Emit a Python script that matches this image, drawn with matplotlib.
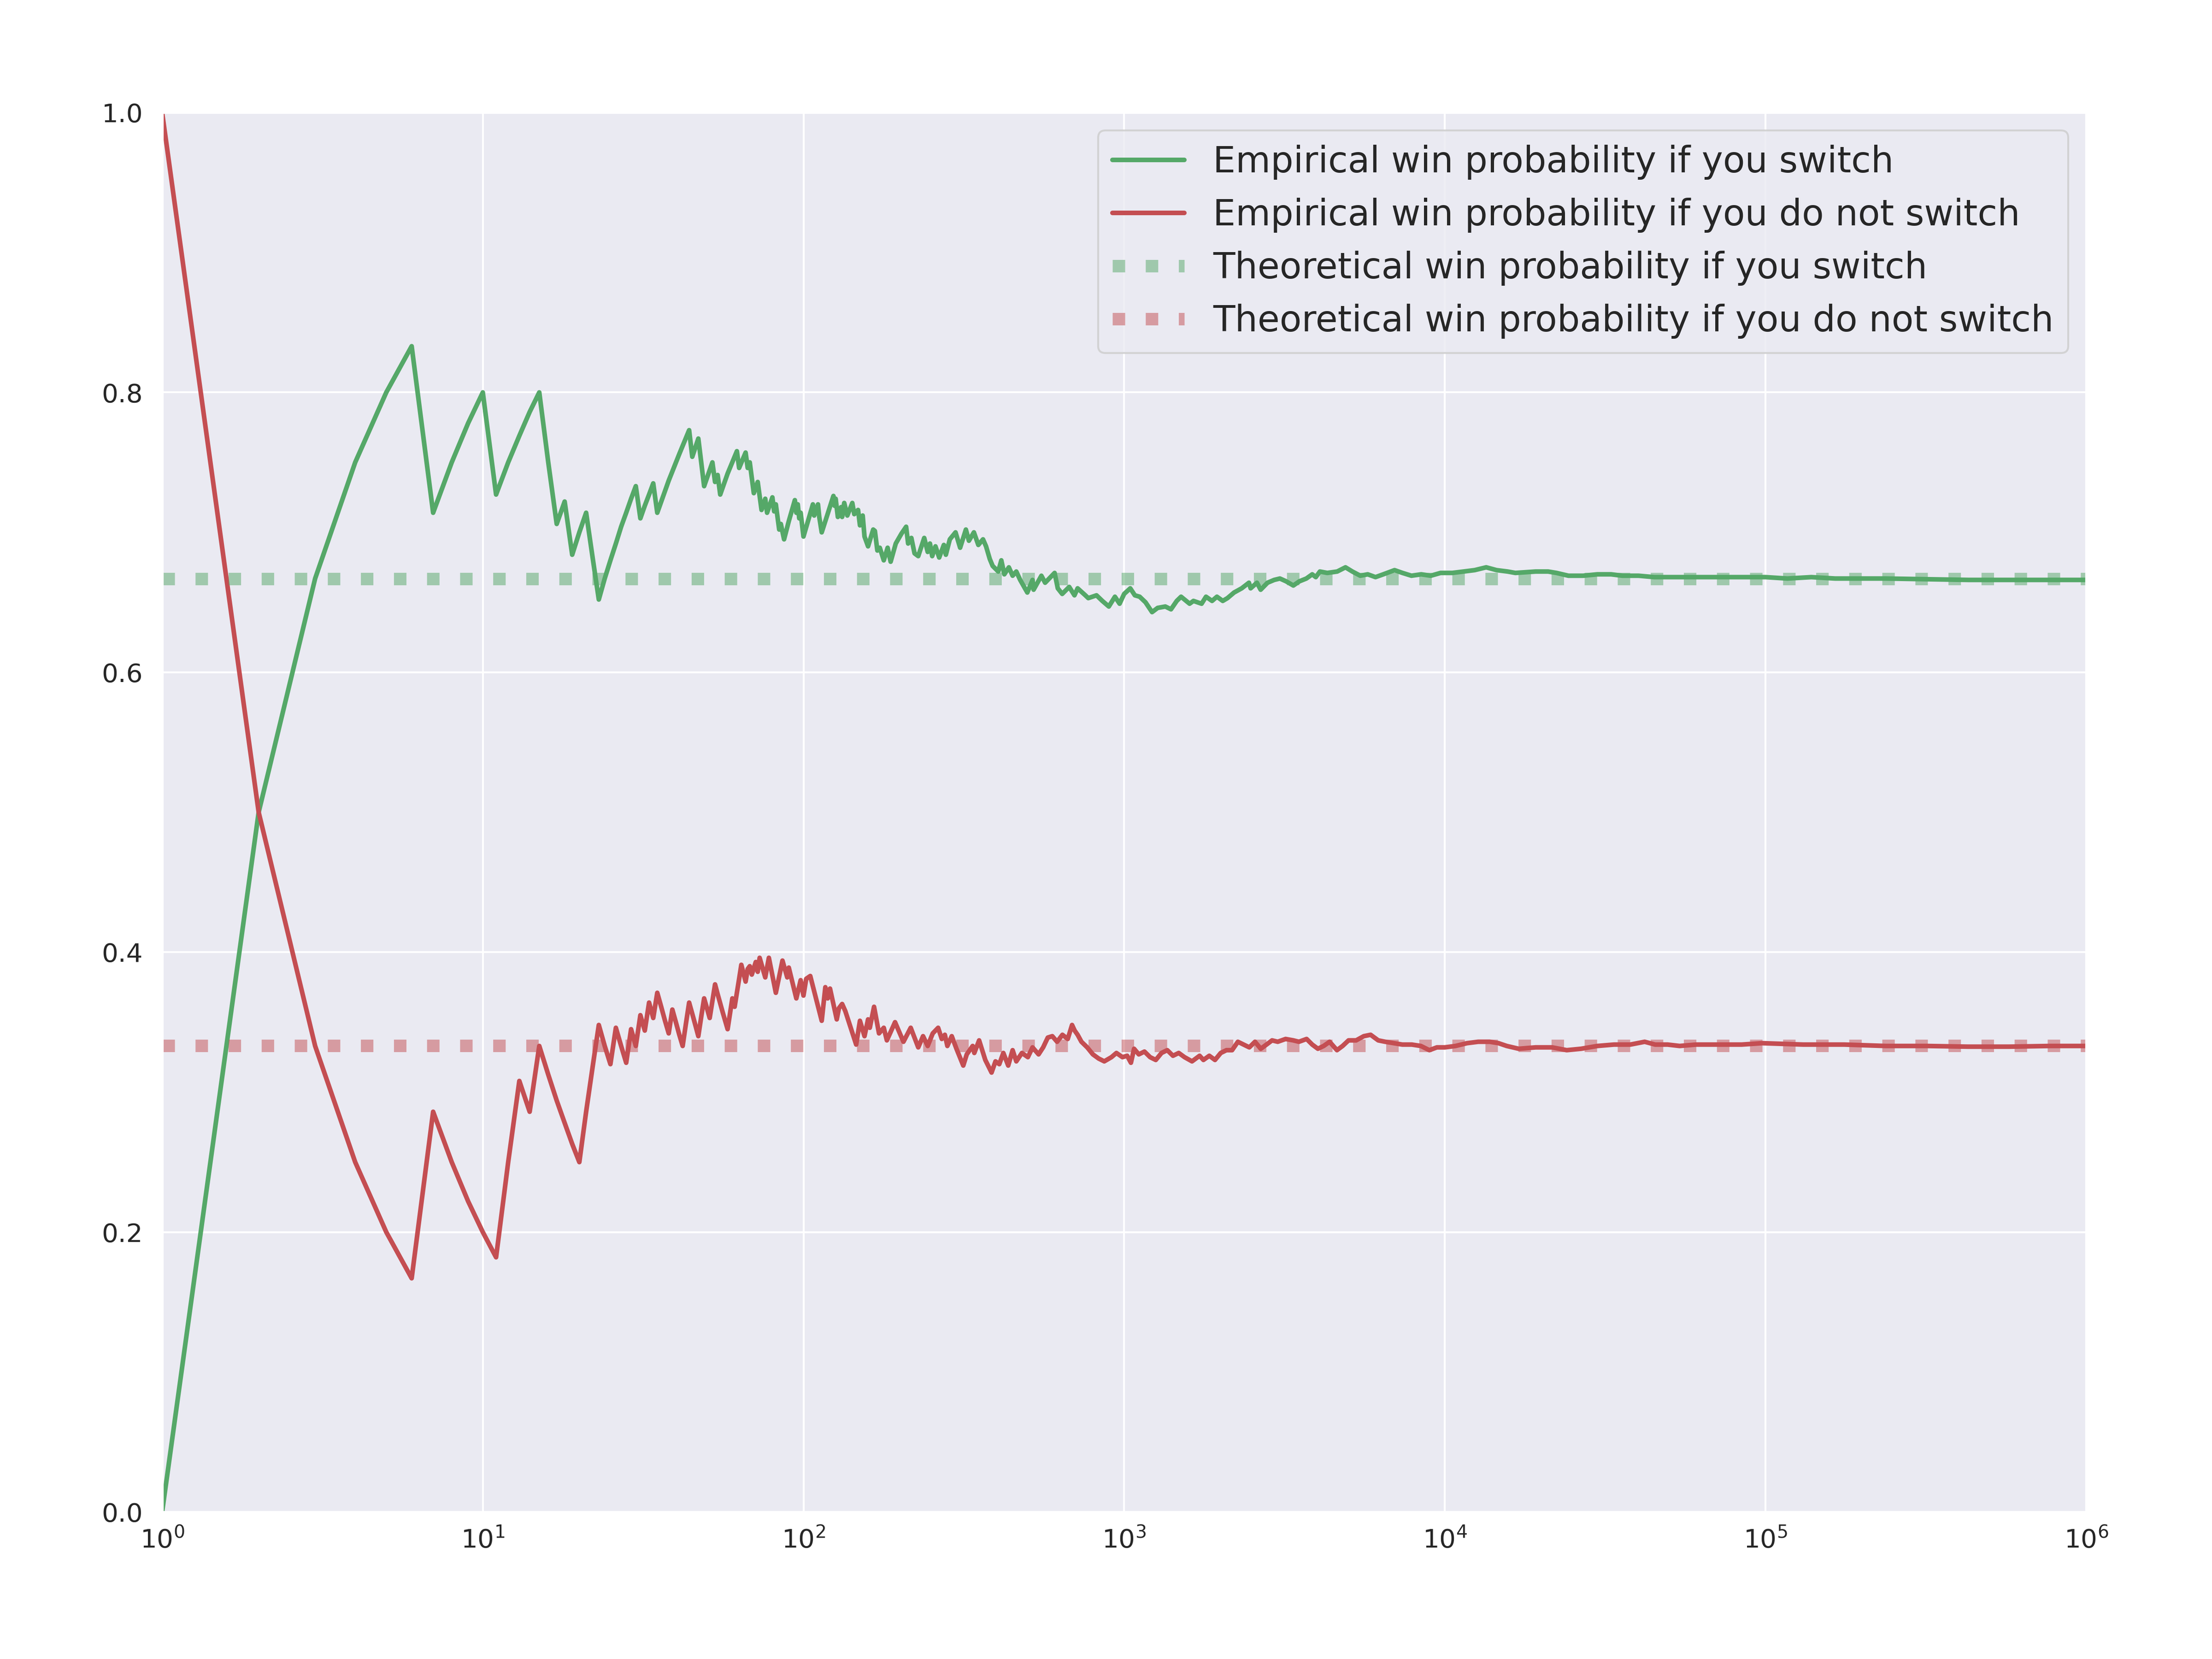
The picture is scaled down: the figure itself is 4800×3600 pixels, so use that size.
import matplotlib
matplotlib.use("Agg")
import matplotlib.pyplot as plt
import seaborn as sns

# running win fraction (trial number, fraction)
switch_n = [1, 2, 3, 4, 5, 6, 7, 8, 9, 10, 11, 12, 13, 14, 15, 16, 17, 18, 19, 20,
            21, 22, 23, 24, 25, 26, 27, 28, 29, 30, 31, 32, 33, 34, 35, 38, 41, 44,
            45, 47, 49, 52, 53, 54, 55, 58, 62, 63, 66, 67, 68, 70, 72, 74, 76, 77,
            80, 81, 82, 84, 85, 87, 90, 94, 95, 96, 97, 98, 100, 107, 108, 111, 112,
            114, 124, 125, 126, 128, 131, 132, 134, 137, 142, 144, 148, 150, 153, 155,
            159, 165, 167, 170, 173, 178, 183, 187, 194, 202, 209, 212, 217, 222,
            228, 238, 244, 248, 252, 258, 265, 274, 278, 286, 298, 308, 321, 328,
            340, 351, 363, 371, 381, 389, 405, 414, 423, 437, 449, 461, 474, 499,
            518, 522, 552, 567, 607, 621, 641, 674, 700, 716, 757, 773, 820, 855,
            896, 936, 968, 1000, 1045, 1080, 1118, 1166, 1222, 1272, 1344, 1400,
            1459, 1505, 1600, 1645, 1744, 1800, 1880, 1947, 2030, 2100, 2202, 2326,
            2450, 2480, 2595, 2665, 2800, 2937, 3060, 3200, 3370, 3520, 3700, 3860,
            3960, 4078, 4300, 4617, 4900, 5150, 5450, 5750, 6080, 6430, 6970, 7380,
            7870, 8440, 9040, 9700, 10550, 11450, 12390, 13460, 14500, 15700, 16600,
            19200, 21000, 22300, 24300, 27000, 29900, 33000, 35800, 40200, 45000,
            54000, 62000, 72600, 84000, 100000, 117000, 139000, 165000, 204000,
            237000, 318000, 430000, 575000, 770000, 1000000]
switch_p = [0.0, 0.5, 0.667, 0.75, 0.8, 0.833, 0.714, 0.75, 0.778, 0.8, 0.727, 0.75,
            0.769, 0.786, 0.8, 0.75, 0.706, 0.722, 0.684, 0.7, 0.714, 0.682, 0.652,
            0.667, 0.68, 0.692, 0.704, 0.714, 0.724, 0.733, 0.71, 0.719, 0.727,
            0.735, 0.714, 0.737, 0.756, 0.773, 0.754, 0.767, 0.733, 0.75, 0.736,
            0.741, 0.727, 0.742, 0.758, 0.746, 0.757, 0.746, 0.75, 0.728, 0.736,
            0.716, 0.724, 0.714, 0.725, 0.715, 0.72, 0.702, 0.706, 0.695, 0.708,
            0.723, 0.714, 0.72, 0.71, 0.714, 0.697, 0.72, 0.712, 0.72, 0.711, 0.70,
            0.726, 0.719, 0.724, 0.711, 0.718, 0.711, 0.721, 0.712, 0.721, 0.713,
            0.716, 0.705, 0.712, 0.697, 0.69, 0.702, 0.701, 0.687, 0.689, 0.68,
            0.689, 0.679, 0.692, 0.699, 0.704, 0.692, 0.696, 0.685, 0.683, 0.696,
            0.686, 0.692, 0.683, 0.69, 0.682, 0.691, 0.684, 0.695, 0.70, 0.689,
            0.702, 0.694, 0.70, 0.691, 0.695, 0.69, 0.681, 0.676, 0.672, 0.68, 0.67,
            0.675, 0.669, 0.672, 0.666, 0.657, 0.666, 0.659, 0.669, 0.664, 0.671,
            0.66, 0.656, 0.661, 0.655, 0.66, 0.655, 0.653, 0.655, 0.651, 0.647,
            0.654, 0.649, 0.656, 0.66, 0.655, 0.654, 0.65, 0.643, 0.646, 0.647,
            0.645, 0.651, 0.654, 0.649, 0.651, 0.649, 0.654, 0.651, 0.654, 0.651,
            0.653, 0.657, 0.66, 0.664, 0.66, 0.664, 0.659, 0.664, 0.666, 0.667,
            0.665, 0.662, 0.665, 0.667, 0.67, 0.668, 0.672, 0.671, 0.672, 0.675,
            0.672, 0.669, 0.67, 0.668, 0.67, 0.673, 0.671, 0.669, 0.67, 0.669,
            0.671, 0.671, 0.672, 0.673, 0.675, 0.673, 0.672, 0.671, 0.672, 0.672,
            0.671, 0.669, 0.669, 0.670, 0.670, 0.669, 0.669, 0.668, 0.668, 0.668,
            0.668, 0.668, 0.668, 0.667, 0.668, 0.667, 0.667, 0.667, 0.6665,
            0.666, 0.666, 0.666, 0.666]

stay_n = [1, 2, 3, 4, 5, 6, 7, 8, 9, 10, 11, 12, 13, 14, 15, 16, 17, 18, 19, 20,
          21, 22, 23, 24, 25, 26, 27, 28, 29, 30, 31, 32, 33, 34, 35, 36, 37, 38,
          39, 40, 41, 42, 43, 44, 45, 46, 47, 48, 49, 50, 51, 52, 53, 54, 56, 58,
          59, 60, 61, 62, 63, 64, 66, 67, 68, 69, 71, 72, 73, 76, 78, 82, 86, 89,
          90, 95, 98, 100, 102, 105, 114, 117, 119, 121, 127, 129, 132, 135, 146,
          150, 155, 159, 161, 166, 172, 178, 182, 193, 205, 216, 228, 236, 244,
          253, 263, 270, 276, 281, 290, 300, 315, 323, 337, 341, 353, 369, 386,
          397, 408, 420, 435, 449, 461, 480, 501, 518, 541, 559, 578, 597, 618,
          642, 667, 688, 701, 716, 736, 767, 799, 833, 867, 913, 946, 988, 1022,
          1050, 1074, 1111, 1157, 1205, 1255, 1308, 1363, 1420, 1480, 1543, 1628,
          1719, 1767, 1843, 1920, 2001, 2085, 2171, 2263, 2358, 2457, 2559, 2667,
          2779, 2893, 3013, 3188, 3370, 3508, 3707, 3860, 4020, 4190, 4373, 4610,
          4800, 5010, 5290, 5590, 5870, 6200, 6520, 6930, 7370, 7890, 8420, 8950,
          9450, 10000, 10800, 11730, 12710, 13800, 14700, 15600, 17000, 19200,
          21600, 24000, 26600, 29900, 33700, 37900, 42000, 45300, 49500, 54000,
          60800, 72600, 84300, 97700, 131000, 176000, 237000, 318000, 428000,
          575000, 773000, 1000000]
stay_p = [1.0, 0.5, 0.333, 0.25, 0.2, 0.167, 0.286, 0.25, 0.222, 0.2, 0.182, 0.25,
          0.308, 0.286, 0.333, 0.3125, 0.294, 0.278, 0.263, 0.25, 0.286, 0.318,
          0.348, 0.333, 0.32, 0.346, 0.333, 0.321, 0.345, 0.333, 0.355, 0.344,
          0.364, 0.353, 0.371, 0.361, 0.351, 0.342, 0.359, 0.35, 0.341, 0.333,
          0.349, 0.364, 0.356, 0.348, 0.34, 0.354, 0.367, 0.36, 0.353, 0.365,
          0.377, 0.37, 0.357, 0.345, 0.356, 0.367, 0.361, 0.371, 0.381, 0.391,
          0.379, 0.388, 0.39, 0.384, 0.393, 0.386, 0.396, 0.382, 0.396, 0.371,
          0.394, 0.382, 0.389, 0.367, 0.38, 0.369, 0.381, 0.383, 0.351, 0.375,
          0.367, 0.374, 0.352, 0.36, 0.363, 0.358, 0.334, 0.351, 0.34, 0.352,
          0.346, 0.361, 0.342, 0.346, 0.337, 0.35, 0.336, 0.346, 0.332, 0.34,
          0.333, 0.342, 0.346, 0.338, 0.341, 0.333, 0.34, 0.331, 0.319, 0.327,
          0.333, 0.328, 0.337, 0.323, 0.314, 0.322, 0.32, 0.328, 0.319, 0.33,
          0.322, 0.328, 0.325, 0.332, 0.327, 0.332, 0.339, 0.34, 0.336, 0.341,
          0.338, 0.348, 0.344, 0.341, 0.336, 0.332, 0.327, 0.324, 0.322, 0.325,
          0.328, 0.325, 0.326, 0.321, 0.331, 0.327, 0.329, 0.325, 0.323, 0.328,
          0.33, 0.326, 0.328, 0.325, 0.322, 0.326, 0.323, 0.326, 0.323, 0.328,
          0.33, 0.33, 0.336, 0.334, 0.332, 0.336, 0.331, 0.334, 0.337, 0.336,
          0.338, 0.337, 0.336, 0.338, 0.334, 0.331, 0.333, 0.336, 0.33, 0.333,
          0.337, 0.337, 0.34, 0.341, 0.337, 0.336, 0.335, 0.334, 0.334, 0.333,
          0.33, 0.332, 0.332, 0.333, 0.335, 0.336, 0.336, 0.335, 0.333, 0.331,
          0.332, 0.332, 0.33, 0.331, 0.333, 0.334, 0.334, 0.336, 0.334, 0.334,
          0.333, 0.334, 0.334, 0.334, 0.335, 0.334, 0.334, 0.333, 0.333, 0.3325,
          0.3325, 0.333, 0.333]

theory_switch = 2 / 3
theory_stay = 1 / 3

labels = ["Empirical win probability if you switch",
          "Empirical win probability if you do not switch",
          "Theoretical win probability if you switch",
          "Theoretical win probability if you do not switch"]

green = "#55A868"
red = "#C44E52"

sns.set_theme(style="darkgrid")
plt.rcParams["font.family"] = ["DejaVu Sans"]

fig = plt.figure(figsize=(16, 12), dpi=300)
ax = fig.add_axes([0.0733, 0.0886, 0.8698, 0.8436])

ax.plot(switch_n, switch_p, color=green, lw=2.4, label=labels[0])
ax.plot(stay_n, stay_p, color=red, lw=2.4, label=labels[1])
ax.axhline(theory_switch, color=green, alpha=0.5, lw=6.5, ls=":", label=labels[2])
ax.axhline(theory_stay, color=red, alpha=0.5, lw=6.5, ls=":", label=labels[3])

ax.set_xscale("log")
ax.set_xlim(1, 1e6)
ax.set_ylim(0, 1)
ax.set_yticks([0.0, 0.2, 0.4, 0.6, 0.8, 1.0])
ax.minorticks_off()
ax.tick_params(axis="both", length=0, labelsize=13.5, colors=".15")
ax.tick_params(axis="x", pad=8)
ax.tick_params(axis="y", pad=10)

ax.legend(loc="upper right", fontsize=18.7)

fig.savefig("out.png", dpi=300)
